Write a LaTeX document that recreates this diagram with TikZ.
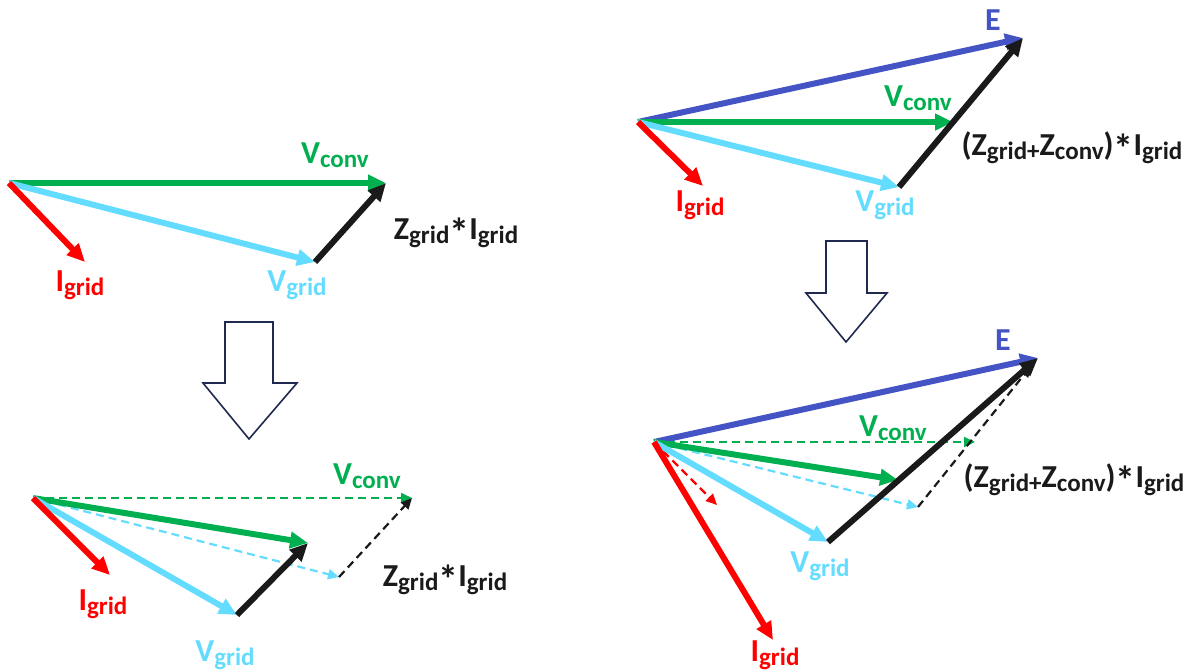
\documentclass[tikz,border=0pt]{standalone}
\usepackage{fontspec}
\setmainfont{Carlito}
\usetikzlibrary{arrows.meta}
\definecolor{vgreen}{RGB}{0,176,80}
\definecolor{vcyan}{RGB}{100,220,255}
\definecolor{vred}{RGB}{255,0,0}
\definecolor{vblue}{RGB}{68,84,196}
\definecolor{vblack}{RGB}{26,26,26}
\definecolor{outline}{RGB}{32,42,80}
\newcommand{\lsub}[2]{#1\raisebox{-1.8pt}{\fontsize{12.5}{12.5}\selectfont #2}}
\newcommand{\lstar}{\raisebox{-3.5pt}{\fontsize{20}{20}\selectfont *}}

\begin{document}
\begin{tikzpicture}[x=0.5pt,y=-0.5pt,
  phasor/.style={line width=3pt,-{Triangle[length=9pt,width=8pt]}},
  oldphasor/.style={line width=1.1pt,dash pattern=on 4pt off 2.5pt,-{Triangle[length=5.5pt,width=5pt]}},
  lbl/.style={font=\fontsize{16}{16}\selectfont\bfseries,inner sep=0pt},
  hollow/.style={draw=outline,line width=0.8pt,fill=white,line join=miter}]
  \useasboundingbox (0,0) rectangle (1186,670);

  \coordinate (oA) at (9,183);
  \coordinate (convA) at (386,183);
  \coordinate (gridA) at (315,262);
  \coordinate (iA) at (85,262);
  \draw[phasor,vgreen] (oA) -- (convA);
  \draw[phasor,vcyan] (oA) -- (gridA);
  \draw[phasor,vred] (oA) -- (iA);
  \draw[phasor,vblack] (gridA) -- (convA);
  \node[lbl,text=vgreen] (lconvA) at (335,155) {\lsub{V}{conv}};
  \node[lbl,text=vblack] (lzA) at (456,233) {\lsub{Z}{grid}\lstar\lsub{I}{grid}};
  \node[lbl,text=vred] (liA) at (80,285) {\lsub{I}{grid}};
  \node[lbl,text=vcyan] (lgridA) at (297,285) {\lsub{V}{grid}};

  \draw[hollow] (225,322) -- (273,322) -- (273,383) -- (297,383) -- (249,439)
    -- (203,383) -- (225,383) -- cycle;

  \coordinate (oB) at (33,498);
  \coordinate (convBold) at (412,498);
  \coordinate (gridBold) at (339,577);
  \coordinate (convB) at (308,543);
  \coordinate (gridB) at (237,615);
  \coordinate (iB) at (110,575);
  \draw[oldphasor,vgreen] (oB) -- (convBold);
  \draw[oldphasor,vcyan] (oB) -- (gridBold);
  \draw[oldphasor,vblack] (gridBold) -- (convBold);
  \draw[phasor,vgreen] (oB) -- (convB);
  \draw[phasor,vcyan] (oB) -- (gridB);
  \draw[phasor,vred] (oB) -- (iB);
  \draw[phasor,vblack] (gridB) -- (convB);
  \node[lbl,text=vgreen] (lconvB) at (367,476) {\lsub{V}{conv}};
  \node[lbl,text=vblack] (lzB) at (445,580) {\lsub{Z}{grid}\lstar\lsub{I}{grid}};
  \node[lbl,text=vred] (liB) at (103,604) {\lsub{I}{grid}};
  \node[lbl,text=vcyan] (lgridB) at (225,655) {\lsub{V}{grid}};

  \coordinate (oC) at (638,122);
  \coordinate (eC) at (1023,38);
  \coordinate (convC) at (953,122);
  \coordinate (gridC) at (899,187);
  \coordinate (iC) at (703,186);
  \draw[phasor,vblue] (oC) -- (eC);
  \draw[phasor,vgreen] (oC) -- (convC);
  \draw[phasor,vcyan] (oC) -- (gridC);
  \draw[phasor,vred] (oC) -- (iC);
  \draw[phasor,vblack] (gridC) -- (eC);
  \node[lbl,text=vblue] (leC) at (993,20) {E};
  \node[lbl,text=vgreen] (lconvC) at (918,98) {\lsub{V}{conv}};
  \node[lbl,text=vblack] (lzC) at (1072,148) {\lsub{(Z}{grid+}\lsub{Z}{conv})\lstar\lsub{I}{grid}};
  \node[lbl,text=vred] (liC) at (700,205) {\lsub{I}{grid}};
  \node[lbl,text=vcyan] (lgridC) at (885,205) {\lsub{V}{grid}};

  \draw[hollow] (826,241) -- (867,241) -- (867,293) -- (887,293) -- (846,342)
    -- (806,293) -- (826,293) -- cycle;

  \coordinate (oD) at (654,442);
  \coordinate (eD) at (1038,358);
  \coordinate (eDold) at (1031,366);
  \coordinate (convDold) at (975,442);
  \coordinate (gridDold) at (918,507);
  \coordinate (iDold) at (717,505);
  \coordinate (convD) at (898,480);
  \coordinate (gridD) at (828,542);
  \coordinate (iD) at (773,640);
  \draw[oldphasor,vgreen] (oD) -- (convDold);
  \draw[oldphasor,vcyan] (oD) -- (gridDold);
  \draw[oldphasor,vred] (oD) -- (iDold);
  \draw[oldphasor,vblack] (gridDold) -- (eDold);
  \draw[phasor,vblue] (oD) -- (eD);
  \draw[phasor,vgreen] (oD) -- (convD);
  \draw[phasor,vcyan] (oD) -- (gridD);
  \draw[phasor,vred] (oD) -- (iD);
  \draw[phasor,vblack] (gridD) -- (eD);
  \node[lbl,text=vblue] (leD) at (1003,340) {E};
  \node[lbl,text=vgreen] (lconvD) at (893,428) {\lsub{V}{conv}};
  \node[lbl,text=vblack] (lzD) at (1074,480) {\lsub{(Z}{grid+}\lsub{Z}{conv})\lstar\lsub{I}{grid}};
  \node[lbl,text=vcyan] (lgridD) at (820,566) {\lsub{V}{grid}};
  \node[lbl,text=vred] (liD) at (775,655) {\lsub{I}{grid}};
\end{tikzpicture}
\end{document}
